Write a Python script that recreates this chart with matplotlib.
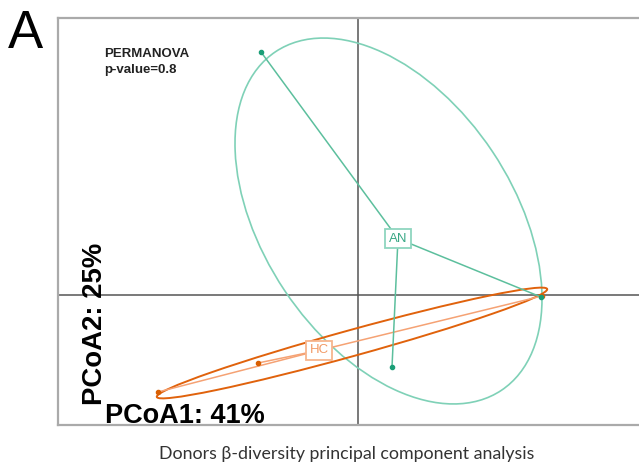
import numpy as np
import matplotlib.pyplot as plt
from matplotlib.patches import Ellipse

# PCoA scores of the donors
an_x = [-0.097, 0.183, 0.034]
an_y = [0.243, -0.002, -0.072]
hc_x = [-0.200, -0.100, 0.184]
hc_y = [-0.097, -0.068, -0.001]

# group ellipses: centre x, centre y, width, height, angle (deg)
an_ell = [0.0305, 0.074, 0.407, 0.250, -56.3]
hc_ell = [-0.006, -0.048, 0.405, 0.026, 15.45]

groups = ["HC", "AN"]   # drawing order, AN ends on top
pcoa1 = 41
pcoa2 = 25
p_value = 0.8

W, H = 639, 468
fx = lambda px: px / W
fy = lambda py: 1 - py / H

fig = plt.figure(figsize=(W / 100, H / 100), dpi=100)
ax = fig.add_axes([fx(58), fy(425), 1 - fx(58), (425 - 18) / H])
ax.set_xlim(-0.300, 0.281)
ax.set_ylim(-0.130, 0.277)

for s in ["left", "bottom", "top"]:
    ax.spines[s].set_color("#aaaaaa")
    ax.spines[s].set_linewidth(1.6)
ax.spines["right"].set_visible(False)
ax.set_xticks([])
ax.set_yticks([])

ax.axhline(0, color="#555555", lw=1.1, zorder=1)
ax.axvline(0, color="#555555", lw=1.1, zorder=1)

styles = {
    "AN": dict(x=an_x, y=an_y, ell=an_ell, ell_c="#7fd1b7", ell_lw=1.2, ez=2,
               spider="#5cbf9d", pt="#1b9e77", txt="#3aa886", box="#8fd6bf"),
    "HC": dict(x=hc_x, y=hc_y, ell=hc_ell, ell_c="#e0620c", ell_lw=1.4, ez=2.5,
               spider="#f5a274", pt="#d95f02", txt="#f29a66", box="#f7b58e"),
}

for g in groups:
    st = styles[g]
    cx, cy, w, h, ang = st["ell"]
    ax.add_patch(Ellipse((cx, cy), w, h, angle=ang, fill=False,
                         ec=st["ell_c"], lw=st["ell_lw"], zorder=st["ez"]))
    mx, my = np.mean(st["x"]), np.mean(st["y"])
    for px, py in zip(st["x"], st["y"]):
        ax.plot([mx, px], [my, py], color=st["spider"], lw=1.1, zorder=3)
    ax.plot(st["x"], st["y"], "o", color=st["pt"], ms=3, zorder=4)
    ax.text(mx, my, g, ha="center", va="center", fontsize=9.5,
            family="Liberation Sans", color=st["txt"], zorder=5,
            bbox=dict(boxstyle="square,pad=0.25", fc="white",
                      ec=st["box"], lw=1.3))

fig.text(fx(8), fy(48), "A", fontsize=38, family="Liberation Sans",
         ha="left", va="baseline")
fig.text(fx(104), fy(57.3), "PERMANOVA", fontsize=9.5, weight="bold",
         family="Liberation Sans", ha="left", va="baseline", color="#222222")
fig.text(fx(104), fy(72.7), f"p-value={p_value}", fontsize=9.5, weight="bold",
         family="Liberation Sans", ha="left", va="baseline", color="#222222")

fig.text(fx(102), fy(405), f"PCoA2: {pcoa2}%", fontsize=19.8, weight="bold",
         family="Liberation Sans", rotation=90, rotation_mode="anchor",
         ha="left", va="baseline")
fig.text(fx(105), fy(423), f"PCoA1: {pcoa1}%", fontsize=19.5, weight="bold",
         family="Liberation Sans", ha="left", va="baseline")

fig.text(fx(346.5), fy(459.5), "Donors β-diversity principal component analysis",
         fontsize=12.8, family="Lato", ha="center", va="baseline",
         color="#333333")

fig.savefig("out.png", dpi=100)
